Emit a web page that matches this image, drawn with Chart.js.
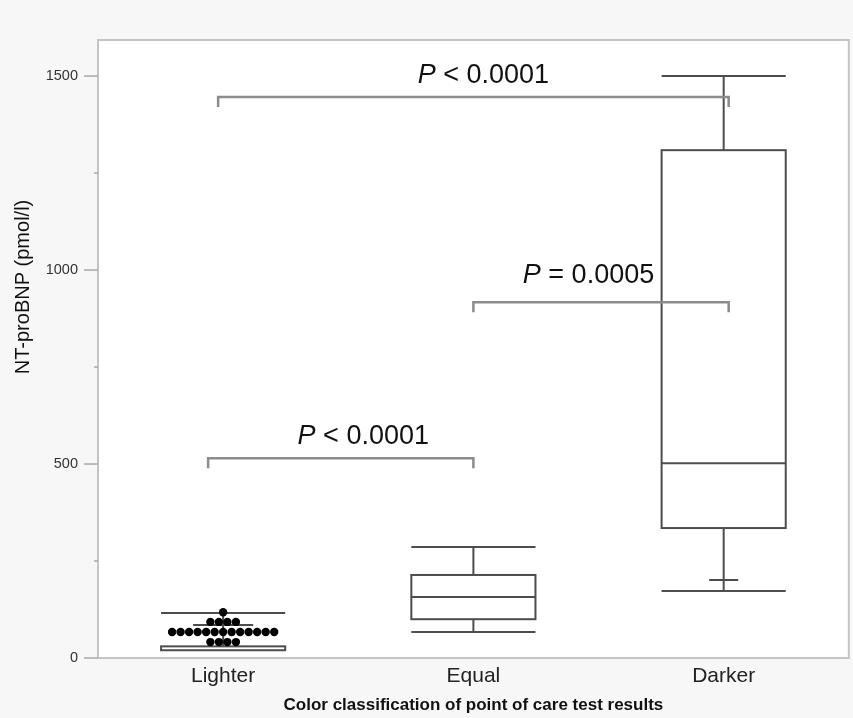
<!DOCTYPE html>
<html>
<head>
<meta charset="UTF-8">
<title>NT-proBNP by colour classification</title>
<script src="https://cdn.jsdelivr.net/npm/chart.js"></script>
<style>
  body { margin: 0; background: #f7f7f7; }
  #wrap { width: 853px; height: 718px; }
</style>
</head>
<body>
<div id="wrap"><canvas id="c" width="853" height="718"></canvas></div>
<script>
// categories and y ticks
const categories = ['Lighter', 'Equal', 'Darker'];
const yTicks = [0, 250, 500, 750, 1000, 1250, 1500];

// box summaries per category (pmol/l)
const boxMin = [20, 67, 173];
const boxQ1 = [20, 100, 335];
const boxMedian = [25, 157, 502];
const boxQ3 = [30, 214, 1309];
const boxMax = [116, 286, 1500];
// extra short marker line inside whisker (null = none)
const innerMark = [85, null, 201];

// individual values shown for "Lighter"
const lighterDots = [118, 93, 93, 93, 93,
  67, 67, 67, 67, 67, 67, 67, 67, 67, 67, 67, 67, 67,
  41, 41, 41, 41];

// comparison brackets
const bracketFrom = [-0.02, 1.0, -0.06];
const bracketTo = [2.02, 2.02, 1.0];
const bracketY = [1446, 917, 515];
const pText = ['< 0.0001', '= 0.0005', '< 0.0001'];
const pTextX = [1.04, 1.46, 0.56];
const pTextY = [1502, 987, 570];

const FONT = '"Liberation Sans", Arial, Helvetica, sans-serif';

// spread equal values side by side (simple beeswarm)
const dotStep = 0.034;
const groups = {};
lighterDots.forEach(v => { groups[v] = (groups[v] || 0) + 1; });
const dotPoints = [];
Object.keys(groups).forEach(k => {
  const n = groups[k];
  for (let i = 0; i < n; i++) {
    dotPoints.push({ x: 0 + (i - (n - 1) / 2) * dotStep, y: Number(k) });
  }
});

const boxPlugin = {
  id: 'boxes',
  beforeDraw(chart) {
    const { ctx, chartArea: a } = chart;
    ctx.save();
    ctx.fillStyle = '#ffffff';
    ctx.fillRect(a.left, a.top, a.right - a.left, a.bottom - a.top);
    ctx.restore();
  },
  beforeDatasetsDraw(chart) {
    const { ctx, scales: { x, y } } = chart;
    const half = 0.248;
    const markHalf = [0.12, 0, 0.058];
    ctx.save();
    ctx.strokeStyle = '#4d4d4d';
    ctx.lineWidth = 2;
    categories.forEach((c, i) => {
      const cx = x.getPixelForValue(i);
      const l = x.getPixelForValue(i - half);
      const r = x.getPixelForValue(i + half);
      const yMin = y.getPixelForValue(boxMin[i]);
      const yQ1 = y.getPixelForValue(boxQ1[i]);
      const yMed = y.getPixelForValue(boxMedian[i]);
      const yQ3 = y.getPixelForValue(boxQ3[i]);
      const yMax = y.getPixelForValue(boxMax[i]);
      ctx.beginPath();
      // whiskers
      ctx.moveTo(cx, yQ3); ctx.lineTo(cx, yMax);
      if (yMin !== yQ1) {
        ctx.moveTo(cx, yQ1); ctx.lineTo(cx, yMin);
        ctx.moveTo(l, yMin); ctx.lineTo(r, yMin);
      }
      ctx.moveTo(l, yMax); ctx.lineTo(r, yMax);
      // median
      if (boxQ3[i] - boxQ1[i] > 20) {
        ctx.moveTo(l, yMed); ctx.lineTo(r, yMed);
      }
      ctx.stroke();
      ctx.strokeRect(l, yQ3, r - l, yQ1 - yQ3);
      if (innerMark[i] !== null) {
        const ym = y.getPixelForValue(innerMark[i]);
        ctx.beginPath();
        ctx.moveTo(x.getPixelForValue(i - markHalf[i]), ym);
        ctx.lineTo(x.getPixelForValue(i + markHalf[i]), ym);
        ctx.stroke();
      }
    });
    ctx.restore();
  },
  afterDatasetsDraw(chart) {
    const { ctx, chartArea: a, scales: { x, y } } = chart;
    ctx.save();
    // brackets
    ctx.strokeStyle = '#8c8c8c';
    ctx.lineWidth = 2.5;
    bracketY.forEach((v, i) => {
      const yy = y.getPixelForValue(v);
      const x1 = x.getPixelForValue(bracketFrom[i]);
      const x2 = x.getPixelForValue(bracketTo[i]);
      ctx.beginPath();
      ctx.moveTo(x1, yy + 10); ctx.lineTo(x1, yy);
      ctx.lineTo(x2, yy); ctx.lineTo(x2, yy + 10);
      ctx.stroke();
    });
    // p values
    ctx.fillStyle = '#111111';
    ctx.textBaseline = 'middle';
    ctx.textAlign = 'left';
    pText.forEach((t, i) => {
      const rest = ' ' + t;
      ctx.font = 'italic 27px ' + FONT;
      const wP = ctx.measureText('P').width;
      ctx.font = '27px ' + FONT;
      const wR = ctx.measureText(rest).width;
      const cx = x.getPixelForValue(pTextX[i]);
      const cy = y.getPixelForValue(pTextY[i]);
      const sx = cx - (wP + wR) / 2;
      ctx.font = 'italic 27px ' + FONT;
      ctx.fillText('P', sx, cy);
      ctx.font = '27px ' + FONT;
      ctx.fillText(rest, sx + wP, cy);
    });
    // frame
    ctx.strokeStyle = '#c4c4c4';
    ctx.lineWidth = 2;
    ctx.strokeRect(a.left, a.top, a.right - a.left, a.bottom - a.top);
    // y tick marks: long at labelled values, short between
    ctx.strokeStyle = '#a8a8a8';
    ctx.lineWidth = 1.5;
    yTicks.forEach(v => {
      const yy = y.getPixelForValue(v);
      const len = v % 500 === 0 ? 14 : 4;
      ctx.beginPath();
      ctx.moveTo(a.left - len, yy);
      ctx.lineTo(a.left, yy);
      ctx.stroke();
    });
    // y axis title
    ctx.translate(23, 287);
    ctx.rotate(-Math.PI / 2);
    ctx.textAlign = 'center';
    ctx.font = '20px ' + FONT;
    ctx.fillStyle = '#111111';
    ctx.fillText('NT-proBNP (pmol/l)', 0, 0);
    ctx.restore();
  }
};

new Chart(document.getElementById('c'), {
  type: 'scatter',
  data: {
    datasets: [{
      label: 'Lighter values',
      data: dotPoints,
      pointRadius: 4.2,
      pointBackgroundColor: '#000000',
      pointBorderWidth: 0
    }]
  },
  options: {
    responsive: false,
    animation: false,
    layout: { padding: { top: 40, right: 4, left: 0, bottom: 0 } },
    plugins: { legend: { display: false }, tooltip: { enabled: false } },
    scales: {
      x: {
        type: 'linear',
        min: -0.5,
        max: 2.5,
        afterFit: s => { s.height = 60; },
        afterBuildTicks: s => { s.ticks = categories.map((c, i) => ({ value: i })); },
        grid: { display: false, drawTicks: false },
        border: { color: '#c4c4c4', width: 2 },
        ticks: {
          padding: 6,
          color: '#222222',
          font: { family: FONT, size: 21 },
          callback: v => categories[v]
        },
        title: {
          display: true,
          text: 'Color classification of point of care test results',
          color: '#111111',
          font: { family: FONT, size: 17, weight: 'bold' },
          padding: { top: 0, bottom: 2 }
        }
      },
      y: {
        min: 0,
        max: 1593,
        afterFit: s => { s.width = 98; },
        afterBuildTicks: s => { s.ticks = yTicks.map(v => ({ value: v })); },
        grid: { drawOnChartArea: false, drawTicks: false },
        border: { color: '#c4c4c4', width: 2 },
        ticks: {
          padding: 20,
          color: '#333333',
          font: { family: FONT, size: 14.5 },
          callback: v => (v % 500 === 0 ? String(v) : '')
        }
      }
    }
  },
  plugins: [boxPlugin]
});
</script>
</body>
</html>
